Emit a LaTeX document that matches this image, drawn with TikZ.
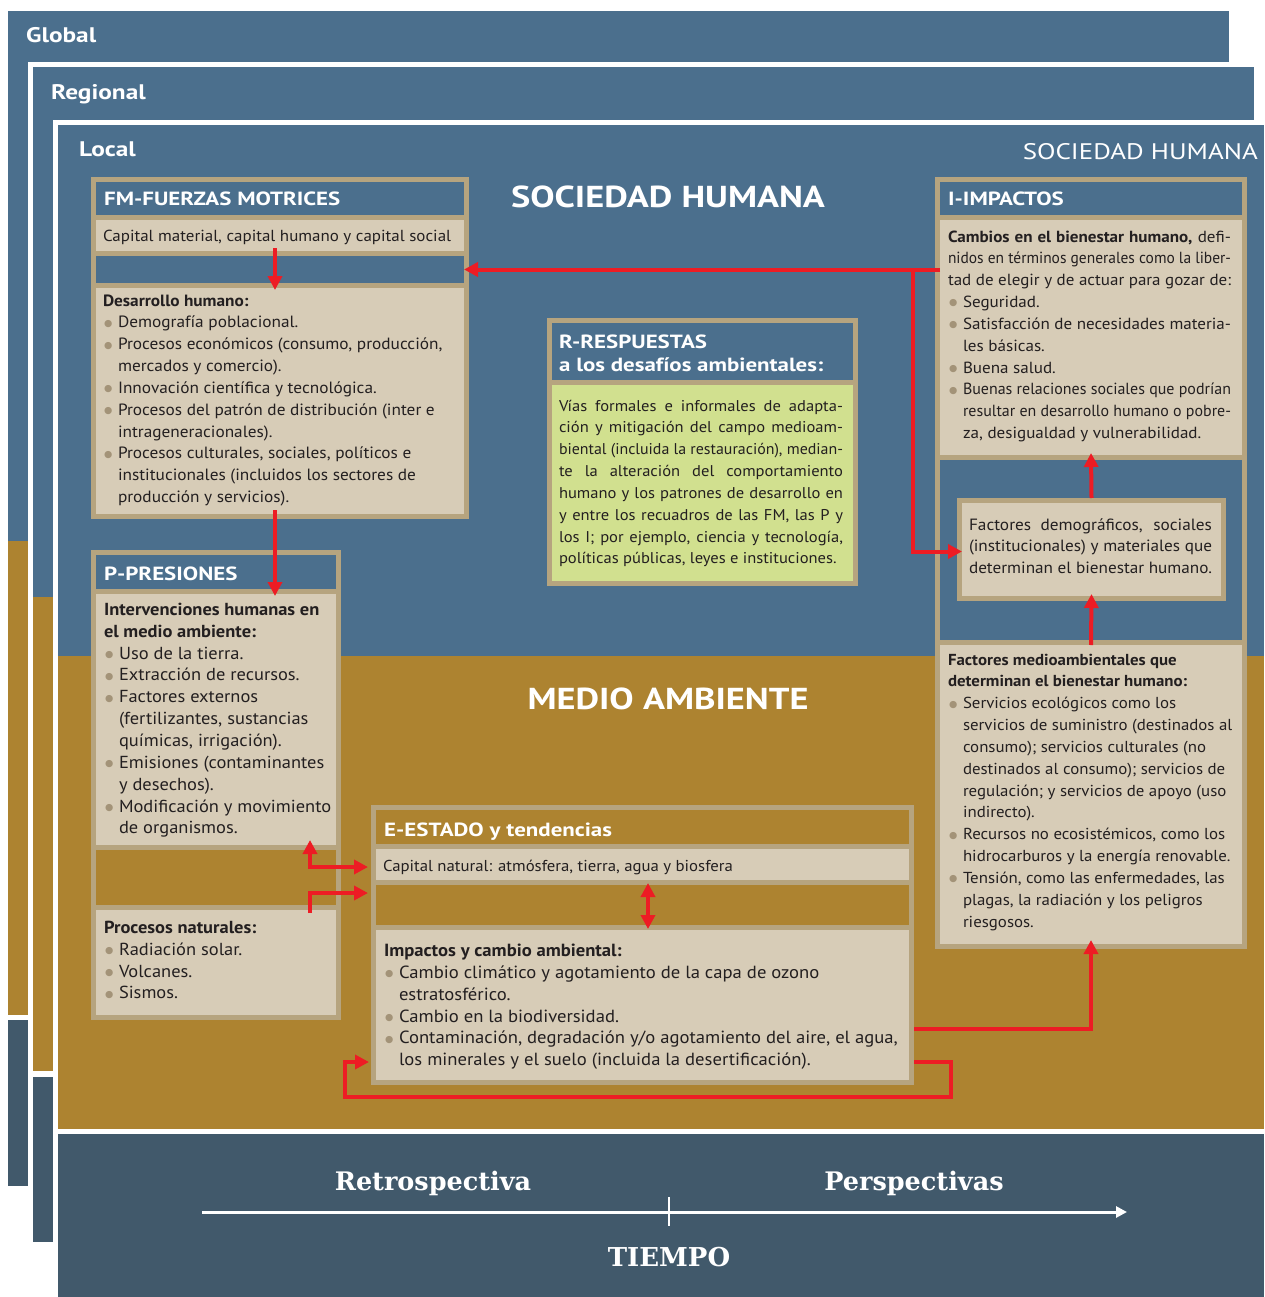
\documentclass[tikz,border=0pt]{standalone}
\usepackage{fontspec}
\usepackage{graphicx}
\setmainfont[FakeStretch=1.06]{PT Sans}
\newfontfamily\hf[FakeStretch=1.2]{PT Sans}
\newfontfamily\dvs{DejaVu Sans}
\newfontfamily\dvserif{DejaVu Serif}
\usetikzlibrary{arrows.meta}
\definecolor{cblue}{HTML}{4B6F8D}
\definecolor{cdark}{HTML}{41596B}
\definecolor{cgold}{HTML}{AD8330}
\definecolor{ctan}{HTML}{B6A47F}
\definecolor{cbeige}{HTML}{D7CCB7}
\definecolor{cgreen}{HTML}{D1E08F}
\definecolor{cred}{HTML}{ED1C24}
\definecolor{cbul}{HTML}{A39378}
\definecolor{ctext}{HTML}{231F20}
\newcommand\myst{\rule{0pt}{12pt}}
\newcommand\myb{\makebox[15pt][l]{\hspace{1pt}\textcolor{cbul}{\raisebox{1.6pt}{\fontsize{9.5}{9}\dvs ●}}}}
\newcommand\myi{\hspace*{15pt}}
\newsavebox\jbox
\newcommand\jw[2]{\sbox\jbox{#2}\ifdim\wd\jbox>#1\relax\resizebox{#1}{\height}{\usebox\jbox}\else\makebox[#1][s]{#2}\fi}
\newcommand\sect[6]{\node[sec,fill=#6,minimum width={#4-#2},minimum height={#5-#3}] (#1) at (#2,#3) {};}
\newcommand\fs[1]{\fontsize{#1}{21.85}\selectfont}
\begin{document}
\begin{tikzpicture}[x=1pt,y=-1pt,
  sec/.style={inner sep=0,outer sep=0,anchor=north west,draw=none},
  body/.style={inner sep=0,outer sep=0,anchor=north west,align=left,text=ctext,font=\fs{16.3}},
  head/.style={inner sep=0,anchor=base west,text=white,font=\hf\bfseries\fontsize{19.1}{22}\selectfont},
  lab/.style={inner sep=0,anchor=base west,text=white,font=\hf\bfseries\fontsize{21.1}{22}\selectfont},
  bigt/.style={inner sep=0,text=white,font=\hf\bfseries\fontsize{30.3}{31}\selectfont},
  tl/.style={inner sep=0,anchor=base,text=white,font=\dvserif\bfseries\fontsize{25.5}{26}\selectfont},
  ra/.style={draw=cred,line width=4pt,-{Triangle[length=14pt,width=14pt]}},
  rb/.style={draw=cred,line width=4pt,{Triangle[length=14pt,width=14pt]}-{Triangle[length=14pt,width=14pt]}}]
\useasboundingbox (0,0) rectangle (1264,1297);
% layers
\fill[cblue] (8,11) rectangle (1229,541);
\fill[cgold] (8,541) rectangle (1229,1015);
\fill[cdark] (8,1020) rectangle (1229,1186);
\fill[white] (28,62) rectangle (1259,1247);
\fill[cblue] (33,67) rectangle (1254,597);
\fill[cgold] (33,597) rectangle (1254,1071);
\fill[cdark] (33,1077) rectangle (1254,1242);
\fill[white] (53,120) rectangle (1264,1297);
\fill[cblue] (58,125) rectangle (1264,656);
\fill[cgold] (58,656) rectangle (1264,1129);
\fill[cdark] (58,1134) rectangle (1264,1297);
\node[lab] (lglob) at (26,43) {Global};
\node[lab] (lreg) at (51,100) {Regional};
\node[lab] (lloc) at (79,157) {Local};
\node[inner sep=0,anchor=base east,text=white,font=\hf\fontsize{22.5}{22}\selectfont] (soc2) at (1258,160) {SOCIEDAD HUMANA};
\node[bigt] (soc) at (668,197) {SOCIEDAD HUMANA};
\node[bigt] (med) at (668,699) {MEDIO AMBIENTE};
% FM
\sect{fmo}{91}{177}{469}{519}{ctan}
\sect{fmh}{96}{182}{464}{215}{cblue}
\sect{fmc}{96}{220}{464}{251}{cbeige}
\sect{fmband}{96}{256}{464}{283}{cblue}
\sect{fmd}{96}{288}{464}{514}{cbeige}
\node[head] (fmht) at (104,206) {FM-FUERZAS MOTRICES};
\node[body,anchor=base west,font=\fs{16}] (fmct) at (103,241) {Capital material, capital humano y capital social};
\node[body] (fmdt) at (103,294) {\myst\textbf{Desarrollo humano:}\\
\myb Demografía poblacional.\\
\myb Procesos económicos (consumo, producción,\\
\myi mercados y comercio).\\
\myb Innovación científica y tecnológica.\\
\myb Procesos del patrón de distribución (inter e\\
\myi intrageneracionales).\\
\myb Procesos culturales, sociales, políticos e\\
\myi institucionales (incluidos los sectores de\\
\myi producción y servicios).};
% P
\sect{po}{91}{550}{341}{1020}{ctan}
\sect{ph}{96}{555}{336}{589}{cblue}
\sect{pint}{96}{594}{336}{845}{cbeige}
\sect{pband}{96}{850}{336}{905}{cgold}
\sect{pn}{96}{910}{336}{1015}{cbeige}
\node[head] (pht) at (104,580) {P-PRESIONES};
\node[body,font=\fs{17.4}] (pit) at (104,603) {\myst\textbf{Intervenciones humanas en}\\
\textbf{el medio ambiente:}\\
\myb Uso de la tierra.\\
\myb Extracción de recursos.\\
\myb Factores externos\\
\myi (fertilizantes, sustancias\\
\myi químicas, irrigación).\\
\myb Emisiones (contaminantes\\
\myi y desechos).\\
\myb Modificación y movimiento\\
\myi de organismos.};
\node[body,font=\fs{17.4}] (pnt) at (104,921) {\myst\textbf{Procesos naturales:}\\
\myb Radiación solar.\\
\myb Volcanes.\\
\myb Sismos.};
% E
\sect{eo}{371}{805}{914}{1085}{ctan}
\sect{eh}{376}{810}{909}{844}{cgold}
\sect{ec}{376}{849}{909}{880}{cbeige}
\sect{eband}{376}{885}{909}{925}{cgold}
\sect{ei}{376}{930}{909}{1080}{cbeige}
\node[head] (eht) at (384,836) {E-ESTADO y tendencias};
\node[body,anchor=base west,font=\fs{15.8}] (ect) at (383,871) {Capital natural: atmósfera, tierra, agua y biosfera};
\node[body,font=\fs{17.6}] (eit) at (384,944) {\myst\textbf{Impactos y cambio ambiental:}\\
\myb Cambio climático y agotamiento de la capa de ozono\\
\myi estratosférico.\\
\myb Cambio en la biodiversidad.\\
\myb Contaminación, degradación y/o agotamiento del aire, el agua,\\
\myi los minerales y el suelo (incluida la desertificación).};
% R
\sect{ro}{547}{318}{858}{586}{ctan}
\sect{rh}{552}{323}{853}{380}{cblue}
\sect{rt}{552}{385}{853}{581}{cgreen}
\node[head] (rht1) at (559,348) {R-RESPUESTAS};
\node[head] (rht2) at (559,371) {a los desafíos ambientales:};
\node[body,font=\fs{15.6}] (rtt) at (559,399) {\myst\jw{284pt}{Vías formales e informales de adapta-}\\
\jw{284pt}{ción y mitigación del campo medioam-}\\
\jw{284pt}{biental (incluida la restauración), median-}\\
\jw{284pt}{te la alteración del comportamiento}\\
\jw{284pt}{humano y los patrones de desarrollo en}\\
\jw{284pt}{y entre los recuadros de las FM, las P y}\\
\jw{284pt}{los I; por ejemplo, ciencia y tecnología,}\\
políticas públicas, leyes e instituciones.};
% I
\sect{io}{935}{177}{1247}{949}{ctan}
\sect{ih}{940}{182}{1242}{215}{cblue}
\sect{ib}{940}{220}{1242}{455}{cbeige}
\sect{iband}{940}{460}{1242}{640}{cblue}
\sect{ie}{940}{645}{1242}{944}{cbeige}
\sect{fo}{957}{498}{1226}{601}{ctan}
\sect{fa}{962}{503}{1221}{596}{cbeige}
\node[head] (iht) at (948,206) {I-IMPACTOS};
\node[body,font=\fs{16.1}] (ibt) at (948,230) {\myst\jw{283pt}{\textbf{Cambios en el bienestar humano,} defi-}\\
\jw{283pt}{nidos en términos generales como la liber-}\\
\jw{283pt}{tad de elegir y de actuar para gozar de:}\\
\myb Seguridad.\\
\myb\jw{268pt}{Satisfacción de necesidades materia-}\\
\myi les básicas.\\
\myb Buena salud.\\
\myb\jw{268pt}{Buenas relaciones sociales que podrían}\\
\myi\jw{268pt}{resultar en desarrollo humano o pobre-}\\
\myi za, desigualdad y vulnerabilidad.};
\node[body,font=\fs{16.3}] (fat) at (969,518) {\myst\jw{243pt}{Factores demográficos, sociales}\\
\jw{243pt}{(institucionales) y materiales que}\\
\jw{243pt}{determinan el bienestar humano.}};
\node[body,font=\fs{15.9}] (iet) at (948,653) {\myst\textbf{Factores medioambientales que}\\
\textbf{determinan el bienestar humano:}\\
\myb Servicios ecológicos como los\\
\myi servicios de suministro (destinados al\\
\myi consumo); servicios culturales (no\\
\myi destinados al consumo); servicios de\\
\myi regulación; y servicios de apoyo (uso\\
\myi indirecto).\\
\myb Recursos no ecosistémicos, como los\\
\myi hidrocarburos y la energía renovable.\\
\myb Tensión, como las enfermedades, las\\
\myi plagas, la radiación y los peligros\\
\myi riesgosos.};
% timeline
\node[tl] (retro) at (433,1190) {Retrospectiva};
\node[tl] (persp) at (914,1190) {Perspectivas};
\node[tl,font=\dvserif\bfseries\fontsize{26}{26}\selectfont] (tiempo) at (669,1266) {TIEMPO};
\coordinate (t0) at (202,1212);
\coordinate (t1) at (1127,1212);
\coordinate (k0) at (669,1197);
\coordinate (k1) at (669,1226);
\draw[white,line width=3pt,-{Triangle[length=11pt,width=11pt]}] (t0) -- (t1);
\draw[white,line width=2.5pt] (k0) -- (k1);
% connectors
\coordinate (fmx) at (275,0);
\coordinate (jn) at (913,269.5);
\coordinate (pc1) at (310,867);
\coordinate (pc2) at (310,893);
\coordinate (ex) at (648,0);
\coordinate (rc1) at (1091,1029);
\coordinate (l1) at (951,1062);
\coordinate (l2) at (951,1097);
\coordinate (l3) at (345,1097);
\coordinate (l4) at (345,1062);
\draw[ra] ([yshift=3pt]fmc.south -| fmx) -- ([yshift=-2pt]fmd.north -| fmx);
\draw[ra] (ib.west |- fmband.east) -- (fmband.east);
\draw[ra] (jn) |- ([yshift=-2pt]fa.west);
\draw[ra] (fo.north) -- ([yshift=2pt]ib.south);
\draw[ra] (ie.north) -- ([yshift=2pt]fa.south);
\draw[ra] ([yshift=4pt]fmd.south -| fmx) -- ([yshift=-2pt]pint.north -| fmx);
\draw[rb] ([yshift=5pt]pint.south -| pc1) -- (pc1) -- ([xshift=-3pt]eo.west |- pc1);
\draw[ra] ([yshift=-3pt]pn.north -| pc2) -- (pc2) -- ([xshift=-3pt]eo.west |- pc2);
\draw[rb] ([yshift=-3pt]ec.south -| ex) -- ([yshift=1pt]ei.north -| ex);
\draw[ra] (eo.east |- rc1) -- (rc1) -- ([yshift=4pt]ie.south -| rc1);
\draw[ra] (eo.east |- l1) -- (l1) -- (l2) -- (l3) -- (l4) -- ([xshift=-2pt]eo.west |- l4);
\end{tikzpicture}
\end{document}
